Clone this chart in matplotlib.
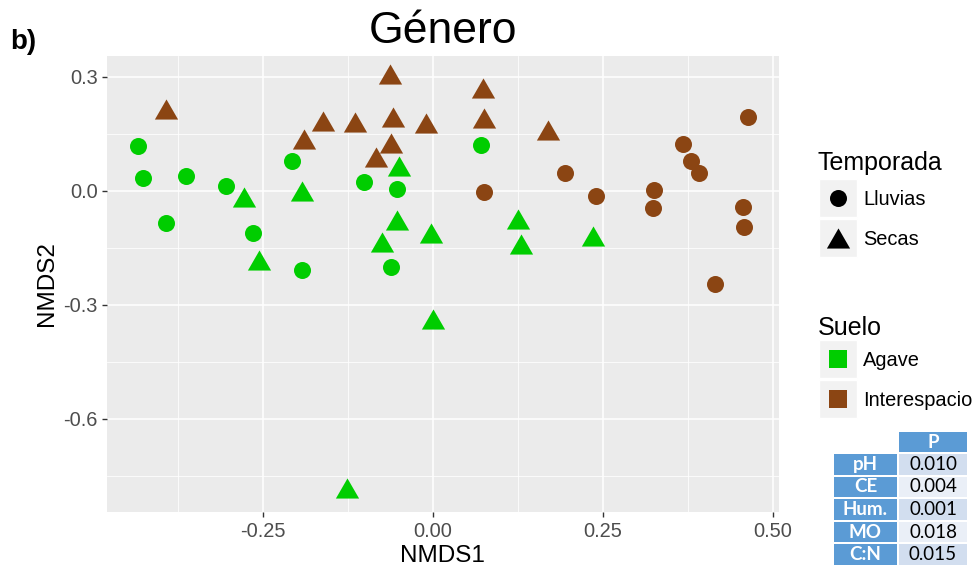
import matplotlib
matplotlib.use("Agg")
import matplotlib.pyplot as plt
from matplotlib.patches import Rectangle
from matplotlib.ticker import FixedLocator

plt.rcParams['font.family'] = ['Liberation Sans', 'DejaVu Sans']

# ---------------- data ----------------
agave_lluvias_x = [-0.434, -0.426, -0.363, -0.392, -0.304, -0.265, -0.207, -0.192, -0.101, -0.052, -0.062, 0.071]
agave_lluvias_y = [0.118, 0.034, 0.038, -0.085, 0.012, -0.111, 0.078, -0.209, 0.023, 0.004, -0.202, 0.120]

agave_secas_x = [-0.278, -0.192, -0.255, -0.049, -0.052, -0.075, -0.002, 0.126, 0.129, 0.236, 0.001, -0.126]
agave_secas_y = [-0.017, -0.001, -0.182, 0.065, -0.077, -0.134, -0.110, -0.074, -0.139, -0.120, -0.337, -0.783]

inter_lluvias_x = [0.076, 0.194, 0.240, 0.325, 0.324, 0.368, 0.379, 0.392, 0.463, 0.456, 0.457, 0.415]
inter_lluvias_y = [-0.003, 0.046, -0.013, 0.002, -0.045, 0.123, 0.078, 0.047, 0.195, -0.042, -0.095, -0.246]

inter_secas_x = [-0.392, -0.189, -0.161, -0.114, -0.063, -0.059, -0.010, -0.062, -0.084, 0.074, 0.075, 0.170]
inter_secas_y = [0.216, 0.136, 0.183, 0.182, 0.308, 0.195, 0.177, 0.125, 0.089, 0.270, 0.191, 0.159]

x_ticks = [-0.25, 0.00, 0.25, 0.50]
x_tick_labels = ["-0.25", "0.00", "0.25", "0.50"]
y_ticks = [-0.6, -0.3, 0.0, 0.3]
y_tick_labels = ["-0.6", "-0.3", "0.0", "0.3"]

temporada_labels = ["Lluvias", "Secas"]
suelo_labels = ["Agave", "Interespacio"]

table_vars = ["pH", "CE", "Hum.", "MO", "C:N"]
table_p = ["0.010", "0.004", "0.001", "0.018", "0.015"]

# ---------------- style ----------------
GREEN = "#00CD00"
BROWN = "#8B4513"
TRI = [(-1, -0.866), (1, -0.866), (0, 0.866)]
S_CIRC = 150
S_TRI = 280

W, H = 977, 577
fig = plt.figure(figsize=(W / 100, H / 100), dpi=100)

L, R, T, B = 106.7, 779.0, 56.0, 512.0
ax = fig.add_axes([L / W, 1 - B / H, (R - L) / W, (B - T) / H])
ax.set_facecolor("#EBEBEB")
ax.set_xlim(-0.4794, 0.509)
ax.set_ylim(-0.8455, 0.3545)

ax.xaxis.set_major_locator(FixedLocator(x_ticks))
ax.yaxis.set_major_locator(FixedLocator(y_ticks))
ax.set_xticklabels(x_tick_labels)
ax.set_yticklabels(y_tick_labels)
ax.xaxis.set_minor_locator(FixedLocator([-0.375, -0.125, 0.125, 0.375]))
ax.yaxis.set_minor_locator(FixedLocator([-0.75, -0.45, -0.15, 0.15]))
ax.grid(which="major", color="white", linewidth=1.1)
ax.grid(which="minor", color="white", linewidth=0.55)
ax.set_axisbelow(True)
for s in ax.spines.values():
    s.set_visible(False)
ax.tick_params(which="major", length=3.6, width=1.0, color="#333333",
               labelsize=14.4, labelcolor="#4D4D4D")
ax.tick_params(axis="x", pad=3.5)
ax.tick_params(axis="y", pad=3.0)
ax.tick_params(which="minor", length=0)

ax.set_xlabel("NMDS1", fontsize=17.5, labelpad=3)
ax.set_ylabel("NMDS2", fontsize=17.5, labelpad=4)

ax.scatter(agave_lluvias_x, agave_lluvias_y, s=S_CIRC, marker="o", color=GREEN, linewidths=0, zorder=3)
ax.scatter(agave_secas_x, agave_secas_y, s=S_TRI, marker=TRI, color=GREEN, linewidths=0, zorder=3)
ax.scatter(inter_lluvias_x, inter_lluvias_y, s=S_CIRC, marker="o", color=BROWN, linewidths=0, zorder=3)
ax.scatter(inter_secas_x, inter_secas_y, s=S_TRI, marker=TRI, color=BROWN, linewidths=0, zorder=3)

# ---------------- overlay in pixel coords ----------------
ov = fig.add_axes([0, 0, 1, 1], zorder=5)
ov.set_xlim(0, W)
ov.set_ylim(H, 0)
ov.axis("off")

ov.text(443, 43, "Género", ha="center", va="baseline", fontsize=32)
ov.text(10, 49, "b)", ha="left", va="baseline", fontsize=20, fontweight="bold")

# legend: Temporada
ov.text(818, 170, "Temporada", ha="left", va="baseline", fontsize=18)
for i, lab in enumerate(temporada_labels):
    y0 = 179 + 40 * i
    ov.add_patch(Rectangle((819, y0), 38, 38, facecolor="#F2F2F2", edgecolor="white", linewidth=1))
    ov.scatter([838], [y0 + 19], s=S_CIRC if i == 0 else S_TRI,
               marker="o" if i == 0 else TRI, color="black", linewidths=0)
    ov.text(863, y0 + 26, lab, ha="left", va="baseline", fontsize=14.4)

# legend: Suelo
ov.text(818, 335, "Suelo", ha="left", va="baseline", fontsize=18)
for i, (lab, col) in enumerate(zip(suelo_labels, [GREEN, BROWN])):
    y0 = 340 + 40 * i
    ov.add_patch(Rectangle((819, y0), 38, 38, facecolor="#F2F2F2", edgecolor="white", linewidth=1))
    ov.add_patch(Rectangle((829, y0 + 10), 18, 18, facecolor=col, edgecolor="none"))
    ov.text(863, y0 + 26, lab, ha="left", va="baseline", fontsize=14.4)

# table
BLUE = "#5B9BD5"
alt = ["#D2DEEF", "#EAEFF7"]
TFS = 13.5
ov.add_patch(Rectangle((899, 432), 68, 19.5, facecolor=BLUE, edgecolor="none"))
ov.text(933, 442, "P", ha="center", va="center", fontsize=TFS, color="white",
        fontweight="bold", family="Lato")
row_tops = [454, 476.5, 499, 521.5, 544]
for i, (v, p) in enumerate(zip(table_vars, table_p)):
    yt = row_tops[i]
    ov.add_patch(Rectangle((834, yt), 63, 20.5, facecolor=BLUE, edgecolor="none"))
    ov.add_patch(Rectangle((899, yt), 68, 20.5, facecolor=alt[i % 2], edgecolor="none"))
    ov.text(865.5, yt + 10.5, v, ha="center", va="center", fontsize=TFS, color="white",
            fontweight="bold", family="Lato")
    ov.text(933, yt + 10.5, p, ha="center", va="center", fontsize=TFS, color="black",
            family="Lato")

fig.savefig("out.png", dpi=100)
